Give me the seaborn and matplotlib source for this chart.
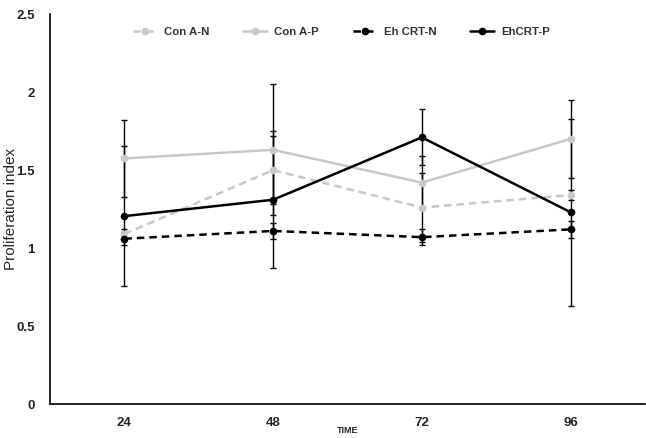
import matplotlib
matplotlib.use("Agg")
import matplotlib.pyplot as plt
import seaborn as sns
import pandas as pd

# Data
times = ['24', '48', '72', '96']
series_names = ['Con A-N', 'Con A-P', 'Eh CRT-N', 'EhCRT-P']
con_a_n = [1.09, 1.50, 1.26, 1.34]
con_a_p = [1.575, 1.63, 1.42, 1.70]
eh_crt_n = [1.06, 1.11, 1.07, 1.12]
ehcrt_p = [1.205, 1.31, 1.71, 1.23]
err_con_a_n = [0.03, 0.22, 0.22, 0.03]
err_con_a_p = [0.245, 0.42, 0.17, 0.25]
err_eh_crt_n = [0.04, 0.05, 0.05, 0.055]
err_ehcrt_p = [0.45, 0.44, 0.18, 0.60]

values = [con_a_n, con_a_p, eh_crt_n, ehcrt_p]
errors = [err_con_a_n, err_con_a_p, err_eh_crt_n, err_ehcrt_p]

rows = []
for name, vals, errs in zip(series_names, values, errors):
    for i, (t, v, e) in enumerate(zip(times, vals, errs)):
        rows.append({'series': name, 'time': t, 'pos': i, 'value': v, 'err': e})
df = pd.DataFrame(rows)

sns.set_style('white')
plt.rcParams['font.family'] = ['Liberation Sans', 'DejaVu Sans']

colors = {'Con A-N': '#c8c8c8', 'Con A-P': '#c8c8c8',
          'Eh CRT-N': '#000000', 'EhCRT-P': '#000000'}
dashes = {'Con A-N': (3, 2), 'Con A-P': '', 'Eh CRT-N': (3, 2), 'EhCRT-P': ''}

fig = plt.figure(figsize=(6.46, 4.38), dpi=100)
ax = fig.add_axes([0.0774, 0.0776, 0.921, 0.890])

# error bars first, so the lines sit on top
for name in series_names:
    sub = df[df['series'] == name]
    ax.errorbar(sub['pos'], sub['value'], yerr=sub['err'], fmt='none',
                ecolor='black', elinewidth=1.0, capsize=2.5, capthick=1.0, zorder=1)

sns.lineplot(data=df, x='pos', y='value', hue='series', style='series',
             hue_order=series_names, style_order=series_names,
             palette=colors, dashes=dashes, markers={n: 'o' for n in series_names},
             markersize=5.5, markeredgewidth=0, linewidth=1.8, ax=ax, zorder=3)

ax.set_xlim(-0.5, 3.5)
ax.set_ylim(0, 2.5)
ax.set_xticks(range(len(times)))
ax.set_xticklabels(times, fontsize=9.5, fontweight='bold')
ax.set_yticks([0, 0.5, 1, 1.5, 2, 2.5])
ax.set_yticklabels(['0', '0.5', '1', '1.5', '2', '2.5'], fontsize=9.5, fontweight='bold')
ax.tick_params(axis='x', length=0, pad=9)
ax.tick_params(axis='y', length=0, pad=11)
ax.set_xlabel('TIME', fontsize=6.5, fontweight='bold', labelpad=-2)
ax.set_ylabel('Proliferation index', fontsize=11)
ax.yaxis.set_label_coords(-0.054, 0.5)

for side in ['top', 'right']:
    ax.spines[side].set_visible(False)
for side in ['left', 'bottom']:
    ax.spines[side].set_color('black')
    ax.spines[side].set_linewidth(1.2)

handles, labels = ax.get_legend_handles_labels()
leg = ax.legend(handles, labels, loc='center', bbox_to_anchor=(0.49, 0.954),
                ncol=4, frameon=False, columnspacing=3.0, handlelength=2.1,
                handletextpad=0.6, prop={'size': 8.2, 'weight': 'bold'})
for text in leg.get_texts():
    text.set_color('#333333')

plt.savefig('out.png', dpi=100)
